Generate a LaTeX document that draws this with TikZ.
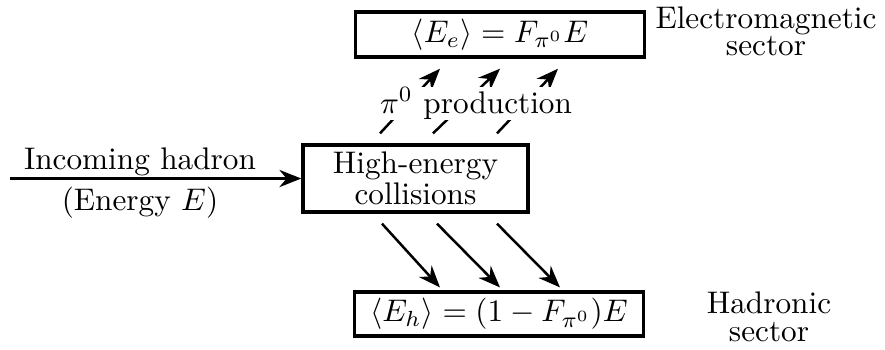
\documentclass[tikz,border=0pt]{standalone}
\usepackage{amsmath}
\usepackage{amssymb}
\usetikzlibrary{arrows.meta,calc}

\tikzset{
  sectorbox/.style={draw, line width=1.1pt, inner sep=2pt, minimum width=92.5pt},
  flow/.style={-{Stealth[length=7pt,width=5.5pt]}, line width=0.8pt},
}

\begin{document}
\begin{tikzpicture}[x=0.32pt, y=-0.32pt]
  \useasboundingbox (0,0) rectangle (885,349);
  \node[draw, line width=1.1pt, inner sep=1pt, minimum width=72pt, minimum height=21.4pt,
        align=center, font=\fontsize{10}{10}\selectfont] (hec) at (415.5,178.5) {High-energy\\collisions};
  \node[sectorbox, minimum height=14.4pt] (em) at (500,34.5) {$\langle E_e\rangle = F_{\pi^0}E$};
  \node[sectorbox, minimum height=13.4pt] (had) at (499,314) {$\langle E_h\rangle = (1-F_{\pi^0})E$};
  \node[align=center, font=\fontsize{10}{8.5}\selectfont] (emlabel) at (766,31.5) {Electromagnetic\\sector};
  \node[align=center, font=\fontsize{10}{9}\selectfont] (hadlabel) at (769,317) {Hadronic\\sector};
  \coordinate (src) at (10,178.5);
  \draw[flow] (src) -- (hec.west);
  \node[anchor=base] (inlabel) at (140,169) {Incoming hadron};
  \node[anchor=base] (energy) at (140,210) {(Energy $E$)};
  \foreach \a/\b in {-35.5/-60, 17.5/0, 81.5/58}
    \draw[flow] ($(hec.north)+(\a,-10)$) -- ($(em.south)+(\b,10)$);
  \node[fill=white, inner xsep=1.5pt, inner ysep=0.3pt, anchor=base] (pion) at (476,113) {$\pi^0$ production};
  \foreach \a/\b in {-33.5/-59, 21.5/1, 81.5/61}
    \draw[flow] ($(hec.south)+(\a,10)$) -- ($(had.north)+(\b,-3)$);
\end{tikzpicture}
\end{document}
